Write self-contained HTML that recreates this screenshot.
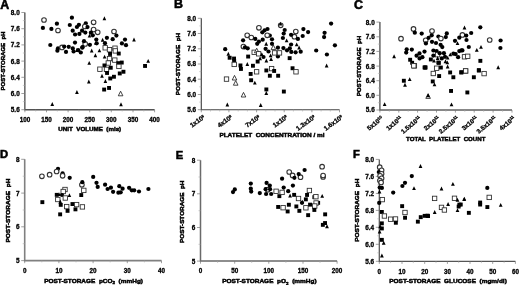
<!DOCTYPE html>
<html><head><meta charset="utf-8"><style>
html,body{margin:0;padding:0;background:#fff;}
svg{display:block;will-change:transform;filter:blur(0.3px);}
text{font-family:"Liberation Sans", sans-serif;font-weight:bold;fill:#000;stroke:#000;stroke-width:0.3px;}
</style></head><body>
<svg width="520" height="285" viewBox="0 0 520 285">
<rect width="520" height="285" fill="#fff"/>
<path d="M24.85 12.5V109.7H154.6" fill="none" stroke="#525252" stroke-width="1.35"/>
<path d="M21.35 12.5H24.85" stroke="#777" stroke-width="0.7"/>
<text x="19.7" y="14.9" font-size="6.4" text-anchor="end" >8.0</text>
<path d="M21.35 28.7H24.85" stroke="#777" stroke-width="0.7"/>
<text x="19.7" y="31.1" font-size="6.4" text-anchor="end" >7.6</text>
<path d="M21.35 44.9H24.85" stroke="#777" stroke-width="0.7"/>
<text x="19.7" y="47.3" font-size="6.4" text-anchor="end" >7.2</text>
<path d="M21.35 61.1H24.85" stroke="#777" stroke-width="0.7"/>
<text x="19.7" y="63.5" font-size="6.4" text-anchor="end" >6.8</text>
<path d="M21.35 77.3H24.85" stroke="#777" stroke-width="0.7"/>
<text x="19.7" y="79.7" font-size="6.4" text-anchor="end" >6.4</text>
<path d="M21.35 93.5H24.85" stroke="#777" stroke-width="0.7"/>
<text x="19.7" y="95.9" font-size="6.4" text-anchor="end" >6.0</text>
<path d="M21.35 109.7H24.85" stroke="#777" stroke-width="0.7"/>
<text x="19.7" y="112.1" font-size="6.4" text-anchor="end" >5.6</text>
<path d="M22.85 20.6H24.85" stroke="#aaa" stroke-width="0.6"/>
<path d="M22.85 36.8H24.85" stroke="#aaa" stroke-width="0.6"/>
<path d="M22.85 53.0H24.85" stroke="#aaa" stroke-width="0.6"/>
<path d="M22.85 69.2H24.85" stroke="#aaa" stroke-width="0.6"/>
<path d="M22.85 85.4H24.85" stroke="#aaa" stroke-width="0.6"/>
<path d="M22.85 101.6H24.85" stroke="#aaa" stroke-width="0.6"/>
<path d="M24.9 109.7V112.3" stroke="#777" stroke-width="0.7"/>
<path d="M46.5 109.7V112.3" stroke="#777" stroke-width="0.7"/>
<path d="M68.1 109.7V112.3" stroke="#777" stroke-width="0.7"/>
<path d="M89.7 109.7V112.3" stroke="#777" stroke-width="0.7"/>
<path d="M111.3 109.7V112.3" stroke="#777" stroke-width="0.7"/>
<path d="M133.0 109.7V112.3" stroke="#777" stroke-width="0.7"/>
<path d="M154.6 109.7V112.3" stroke="#777" stroke-width="0.7"/>
<path d="M35.7 109.7V111.5" stroke="#aaa" stroke-width="0.6"/>
<path d="M57.3 109.7V111.5" stroke="#aaa" stroke-width="0.6"/>
<path d="M78.9 109.7V111.5" stroke="#aaa" stroke-width="0.6"/>
<path d="M100.5 109.7V111.5" stroke="#aaa" stroke-width="0.6"/>
<path d="M122.2 109.7V111.5" stroke="#aaa" stroke-width="0.6"/>
<path d="M143.8 109.7V111.5" stroke="#aaa" stroke-width="0.6"/>
<text x="24.9" y="122.0" font-size="6.3" text-anchor="middle" >100</text>
<text x="46.5" y="122.0" font-size="6.3" text-anchor="middle" >150</text>
<text x="68.1" y="122.0" font-size="6.3" text-anchor="middle" >200</text>
<text x="89.7" y="122.0" font-size="6.3" text-anchor="middle" >250</text>
<text x="111.3" y="122.0" font-size="6.3" text-anchor="middle" >300</text>
<text x="133.0" y="122.0" font-size="6.3" text-anchor="middle" >350</text>
<text x="154.6" y="122.0" font-size="6.3" text-anchor="middle" >400</text>
<text x="58.3" y="131.1" font-size="5.8" textLength="62.9" lengthAdjust="spacingAndGlyphs" xml:space="preserve" style="stroke-width:0.45px">UNIT  VOLUME  (mls)</text>
<text x="0" y="0" font-size="5.8" textLength="58.9" lengthAdjust="spacingAndGlyphs" xml:space="preserve" style="stroke-width:0.45px" transform="translate(5.2 90.5) rotate(-90)">POST-STORAGE  pH</text>
<text x="0.3" y="8.5" font-size="12.4" style="stroke-width:0.55px">A</text>
<circle cx="42.9" cy="27.9" r="2.12" fill="#000"/>
<circle cx="44.0" cy="20.0" r="2.3" fill="#fff" stroke="#333" stroke-width="1.1"/>
<circle cx="51.4" cy="28.9" r="2.12" fill="#000"/>
<circle cx="56.9" cy="23.7" r="2.12" fill="#000"/>
<circle cx="58.0" cy="30.5" r="2.3" fill="#fff" stroke="#333" stroke-width="1.1"/>
<circle cx="71.9" cy="17.7" r="2.12" fill="#000"/>
<circle cx="69.8" cy="25.0" r="2.12" fill="#000"/>
<circle cx="72.7" cy="30.7" r="2.12" fill="#000"/>
<circle cx="75.1" cy="34.5" r="2.12" fill="#000"/>
<circle cx="76.9" cy="27.0" r="2.12" fill="#000"/>
<circle cx="78.9" cy="24.8" r="2.12" fill="#000"/>
<circle cx="79.4" cy="33.9" r="2.12" fill="#000"/>
<circle cx="82.1" cy="30.7" r="2.12" fill="#000"/>
<circle cx="85.8" cy="23.3" r="2.12" fill="#000"/>
<circle cx="84.8" cy="26.5" r="2.3" fill="#fff" stroke="#333" stroke-width="1.1"/>
<circle cx="87.5" cy="27.1" r="2.12" fill="#000"/>
<circle cx="85.3" cy="32.6" r="2.12" fill="#000"/>
<circle cx="93.6" cy="22.3" r="2.3" fill="#fff" stroke="#333" stroke-width="1.1"/>
<circle cx="93.6" cy="29.6" r="2.3" fill="#fff" stroke="#333" stroke-width="1.1"/>
<circle cx="97.7" cy="32.3" r="2.3" fill="#fff" stroke="#333" stroke-width="1.1"/>
<circle cx="90.9" cy="32.7" r="2.12" fill="#000"/>
<path d="M89.5 33.7L91.3 37.6L87.7 37.6Z" fill="#000"/>
<circle cx="92.8" cy="35.3" r="2.12" fill="#000"/>
<path d="M104.4 16.3L106.2 20.2L102.6 20.2Z" fill="#000"/>
<circle cx="114.0" cy="31.5" r="2.3" fill="#fff" stroke="#333" stroke-width="1.1"/>
<circle cx="116.4" cy="35.6" r="2.12" fill="#000"/>
<circle cx="112.7" cy="39.2" r="2.12" fill="#000"/>
<circle cx="125.0" cy="39.6" r="2.12" fill="#000"/>
<path d="M134.0 37.5L135.8 41.4L132.2 41.4Z" fill="#000"/>
<circle cx="121.9" cy="43.4" r="2.12" fill="#000"/>
<circle cx="126.0" cy="45.2" r="2.12" fill="#000"/>
<circle cx="106.9" cy="37.8" r="2.12" fill="#000"/>
<path d="M102.6 37.8L104.4 41.7L100.8 41.7Z" fill="#000"/>
<circle cx="96.3" cy="39.6" r="2.12" fill="#000"/>
<circle cx="96.7" cy="43.3" r="2.12" fill="#000"/>
<circle cx="75.0" cy="42.6" r="2.12" fill="#000"/>
<circle cx="85.2" cy="43.9" r="2.3" fill="#fff" stroke="#333" stroke-width="1.1"/>
<circle cx="84.0" cy="41.2" r="2.12" fill="#000"/>
<circle cx="89.9" cy="44.8" r="2.12" fill="#000"/>
<circle cx="82.5" cy="47.2" r="2.12" fill="#000"/>
<path d="M95.8 40.9L97.6 44.8L94.0 44.8Z" fill="#000"/>
<circle cx="105.0" cy="43.2" r="2.12" fill="#000"/>
<circle cx="50.3" cy="45.0" r="2.12" fill="#000"/>
<circle cx="57.4" cy="50.7" r="2.12" fill="#000"/>
<circle cx="58.0" cy="48.3" r="2.12" fill="#000"/>
<circle cx="62.0" cy="47.4" r="2.3" fill="#fff" stroke="#333" stroke-width="1.1"/>
<circle cx="64.2" cy="46.6" r="2.12" fill="#000"/>
<circle cx="66.0" cy="51.9" r="2.12" fill="#000"/>
<circle cx="68.7" cy="46.8" r="2.12" fill="#000"/>
<circle cx="72.8" cy="48.4" r="2.12" fill="#000"/>
<circle cx="73.6" cy="51.5" r="2.12" fill="#000"/>
<path d="M76.9 48.1L78.8 52.0L75.1 52.0Z" fill="#000"/>
<circle cx="78.2" cy="50.2" r="2.12" fill="#000"/>
<circle cx="80.8" cy="52.5" r="2.12" fill="#000"/>
<circle cx="82.3" cy="47.7" r="2.12" fill="#000"/>
<path d="M91.7 48.6L93.5 52.5L89.9 52.5Z" fill="#000"/>
<path d="M99.4 48.4L101.2 52.3L97.6 52.3Z" fill="#000"/>
<path d="M95.4 53.3L97.2 57.2L93.6 57.2Z" fill="#000"/>
<path d="M89.2 60.9L91.0 64.8L87.4 64.8Z" fill="#000"/>
<rect x="103.0" y="45.6" width="4.4" height="4.4" fill="#fff" stroke="#2a2a2a" stroke-width="0.85"/>
<rect x="107.3" y="47.5" width="4.4" height="4.4" fill="#fff" stroke="#2a2a2a" stroke-width="0.85"/>
<rect x="112.8" y="46.0" width="4.4" height="4.4" fill="#fff" stroke="#2a2a2a" stroke-width="0.85"/>
<rect x="113.1" y="48.7" width="4.4" height="4.4" fill="#fff" stroke="#2a2a2a" stroke-width="0.85"/>
<rect x="116.8" y="51.6" width="3.9" height="3.9" fill="#000"/>
<rect x="108.1" y="52.0" width="3.9" height="3.9" fill="#000"/>
<path d="M104.6 54.7L106.4 58.6L102.8 58.6Z" fill="#000"/>
<rect x="107.3" y="56.4" width="4.4" height="4.4" fill="#fff" stroke="#2a2a2a" stroke-width="0.85"/>
<rect x="112.6" y="57.9" width="4.4" height="4.4" fill="#fff" stroke="#2a2a2a" stroke-width="0.85"/>
<rect x="116.3" y="61.2" width="3.9" height="3.9" fill="#000"/>
<rect x="119.8" y="60.6" width="3.9" height="3.9" fill="#000"/>
<rect x="106.1" y="60.8" width="4.4" height="4.4" fill="#fff" stroke="#2a2a2a" stroke-width="0.85"/>
<rect x="102.5" y="63.5" width="3.9" height="3.9" fill="#000"/>
<rect x="97.7" y="67.0" width="4.4" height="4.4" fill="#fff" stroke="#2a2a2a" stroke-width="0.85"/>
<rect x="104.3" y="67.2" width="4.4" height="4.4" fill="#fff" stroke="#2a2a2a" stroke-width="0.85"/>
<rect x="108.8" y="65.8" width="3.9" height="3.9" fill="#000"/>
<rect x="116.7" y="64.2" width="4.4" height="4.4" fill="#fff" stroke="#2a2a2a" stroke-width="0.85"/>
<rect x="117.8" y="71.5" width="3.9" height="3.9" fill="#000"/>
<rect x="121.5" y="69.8" width="3.9" height="3.9" fill="#000"/>
<rect x="105.1" y="71.0" width="3.9" height="3.9" fill="#000"/>
<rect x="108.3" y="76.5" width="3.9" height="3.9" fill="#000"/>
<rect x="112.0" y="74.8" width="3.9" height="3.9" fill="#000"/>
<path d="M102.0 73.8L103.8 77.7L100.2 77.7Z" fill="#000"/>
<path d="M105.4 79.0L107.2 82.9L103.6 82.9Z" fill="#000"/>
<rect x="102.2" y="87.6" width="3.9" height="3.9" fill="#000"/>
<rect x="107.1" y="86.0" width="3.9" height="3.9" fill="#000"/>
<path d="M120.6 91.2L122.9 95.8L118.3 95.8Z" fill="#fff" stroke="#222" stroke-width="0.85"/>
<path d="M121.0 102.3L122.8 106.2L119.2 106.2Z" fill="#000"/>
<path d="M52.3 102.1L54.1 106.0L50.4 106.0Z" fill="#000"/>
<path d="M76.9 90.1L78.8 94.0L75.1 94.0Z" fill="#000"/>
<path d="M88.8 79.5L90.6 83.4L87.0 83.4Z" fill="#000"/>
<path d="M148.2 58.9L150.0 62.8L146.3 62.8Z" fill="#000"/>
<rect x="143.1" y="64.0" width="3.9" height="3.9" fill="#000"/>
<path d="M201.3 18.3V109.7H339.5" fill="none" stroke="#444" stroke-width="1.15"/>
<path d="M197.8 18.3H201.3" stroke="#777" stroke-width="0.7"/>
<text x="196.1" y="20.7" font-size="6.4" text-anchor="end" >8.0</text>
<path d="M197.8 33.5H201.3" stroke="#777" stroke-width="0.7"/>
<text x="196.1" y="35.9" font-size="6.4" text-anchor="end" >7.6</text>
<path d="M197.8 48.8H201.3" stroke="#777" stroke-width="0.7"/>
<text x="196.1" y="51.2" font-size="6.4" text-anchor="end" >7.2</text>
<path d="M197.8 64.0H201.3" stroke="#777" stroke-width="0.7"/>
<text x="196.1" y="66.4" font-size="6.4" text-anchor="end" >6.8</text>
<path d="M197.8 79.2H201.3" stroke="#777" stroke-width="0.7"/>
<text x="196.1" y="81.6" font-size="6.4" text-anchor="end" >6.4</text>
<path d="M197.8 94.5H201.3" stroke="#777" stroke-width="0.7"/>
<text x="196.1" y="96.9" font-size="6.4" text-anchor="end" >6.0</text>
<path d="M197.8 109.7H201.3" stroke="#777" stroke-width="0.7"/>
<text x="196.1" y="112.1" font-size="6.4" text-anchor="end" >5.6</text>
<path d="M199.3 25.9H201.3" stroke="#aaa" stroke-width="0.6"/>
<path d="M199.3 41.1H201.3" stroke="#aaa" stroke-width="0.6"/>
<path d="M199.3 56.4H201.3" stroke="#aaa" stroke-width="0.6"/>
<path d="M199.3 71.6H201.3" stroke="#aaa" stroke-width="0.6"/>
<path d="M199.3 86.8H201.3" stroke="#aaa" stroke-width="0.6"/>
<path d="M199.3 102.1H201.3" stroke="#aaa" stroke-width="0.6"/>
<path d="M201.3 109.7V112.3" stroke="#777" stroke-width="0.7"/>
<path d="M228.9 109.7V112.3" stroke="#777" stroke-width="0.7"/>
<path d="M256.6 109.7V112.3" stroke="#777" stroke-width="0.7"/>
<path d="M284.2 109.7V112.3" stroke="#777" stroke-width="0.7"/>
<path d="M311.9 109.7V112.3" stroke="#777" stroke-width="0.7"/>
<path d="M339.5 109.7V112.3" stroke="#777" stroke-width="0.7"/>
<path d="M210.5 109.7V111.5" stroke="#aaa" stroke-width="0.6"/>
<path d="M219.7 109.7V111.5" stroke="#aaa" stroke-width="0.6"/>
<path d="M238.2 109.7V111.5" stroke="#aaa" stroke-width="0.6"/>
<path d="M247.4 109.7V111.5" stroke="#aaa" stroke-width="0.6"/>
<path d="M265.8 109.7V111.5" stroke="#aaa" stroke-width="0.6"/>
<path d="M275.0 109.7V111.5" stroke="#aaa" stroke-width="0.6"/>
<path d="M293.4 109.7V111.5" stroke="#aaa" stroke-width="0.6"/>
<path d="M302.6 109.7V111.5" stroke="#aaa" stroke-width="0.6"/>
<path d="M321.1 109.7V111.5" stroke="#aaa" stroke-width="0.6"/>
<path d="M330.3 109.7V111.5" stroke="#aaa" stroke-width="0.6"/>
<text x="0" y="0" font-size="6.5" text-anchor="end" transform="translate(205.2 118.1) rotate(-36)">1x10<tspan dy="-2" font-size="3.6">8</tspan></text>
<text x="0" y="0" font-size="6.5" text-anchor="end" transform="translate(232.8 118.1) rotate(-36)">4x10<tspan dy="-2" font-size="3.6">8</tspan></text>
<text x="0" y="0" font-size="6.5" text-anchor="end" transform="translate(260.5 118.1) rotate(-36)">7x10<tspan dy="-2" font-size="3.6">8</tspan></text>
<text x="0" y="0" font-size="6.5" text-anchor="end" transform="translate(288.1 118.1) rotate(-36)">1x10<tspan dy="-2" font-size="3.6">9</tspan></text>
<text x="0" y="0" font-size="6.5" text-anchor="end" transform="translate(315.8 118.1) rotate(-36)">1.3x10<tspan dy="-2" font-size="3.6">9</tspan></text>
<text x="0" y="0" font-size="6.5" text-anchor="end" transform="translate(343.4 118.1) rotate(-36)">1.6x10<tspan dy="-2" font-size="3.6">9</tspan></text>
<text x="219.4" y="137.2" font-size="5.8" textLength="105.2" lengthAdjust="spacingAndGlyphs" xml:space="preserve" style="stroke-width:0.45px">PLATELET  CONCENTRATION / ml</text>
<text x="0" y="0" font-size="5.8" textLength="62.3" lengthAdjust="spacingAndGlyphs" xml:space="preserve" style="stroke-width:0.45px" transform="translate(179.5 95.2) rotate(-90)">POST-STORAGE  pH</text>
<text x="174.0" y="8.4" font-size="12.4" style="stroke-width:0.55px">B</text>
<circle cx="225.2" cy="49.2" r="2.12" fill="#000"/>
<path d="M228.3 51.8L230.2 55.7L226.5 55.7Z" fill="#000"/>
<rect x="227.7" y="55.8" width="3.9" height="3.9" fill="#000"/>
<rect x="232.1" y="56.6" width="3.9" height="3.9" fill="#000"/>
<rect x="232.2" y="59.0" width="3.9" height="3.9" fill="#000"/>
<rect x="232.0" y="62.2" width="4.4" height="4.4" fill="#fff" stroke="#2a2a2a" stroke-width="0.85"/>
<rect x="238.5" y="63.5" width="3.9" height="3.9" fill="#000"/>
<rect x="239.0" y="67.0" width="3.9" height="3.9" fill="#000"/>
<path d="M247.3 62.1L249.2 66.0L245.5 66.0Z" fill="#000"/>
<rect x="246.2" y="54.6" width="3.9" height="3.9" fill="#000"/>
<rect x="251.0" y="63.8" width="3.9" height="3.9" fill="#000"/>
<rect x="224.3" y="76.9" width="4.4" height="4.4" fill="#fff" stroke="#2a2a2a" stroke-width="0.85"/>
<path d="M234.5 75.4L236.8 80.0L232.2 80.0Z" fill="#fff" stroke="#222" stroke-width="0.85"/>
<path d="M235.7 80.6L238.0 85.2L233.4 85.2Z" fill="#fff" stroke="#222" stroke-width="0.85"/>
<path d="M243.5 92.4L245.8 97.0L241.2 97.0Z" fill="#fff" stroke="#222" stroke-width="0.85"/>
<path d="M227.3 102.5L229.2 106.4L225.5 106.4Z" fill="#000"/>
<rect x="248.7" y="72.0" width="3.9" height="3.9" fill="#000"/>
<rect x="249.2" y="78.3" width="3.9" height="3.9" fill="#000"/>
<path d="M254.8 80.7L256.7 84.6L253.0 84.6Z" fill="#000"/>
<rect x="254.4" y="69.6" width="4.4" height="4.4" fill="#fff" stroke="#2a2a2a" stroke-width="0.85"/>
<rect x="255.7" y="59.6" width="3.9" height="3.9" fill="#000"/>
<rect x="264.4" y="68.5" width="3.9" height="3.9" fill="#000"/>
<rect x="269.4" y="66.4" width="4.4" height="4.4" fill="#fff" stroke="#2a2a2a" stroke-width="0.85"/>
<rect x="272.2" y="69.0" width="3.9" height="3.9" fill="#000"/>
<rect x="267.9" y="73.8" width="3.9" height="3.9" fill="#000"/>
<rect x="276.2" y="73.8" width="3.9" height="3.9" fill="#000"/>
<rect x="290.6" y="66.3" width="3.9" height="3.9" fill="#000"/>
<rect x="293.8" y="69.6" width="4.4" height="4.4" fill="#fff" stroke="#2a2a2a" stroke-width="0.85"/>
<rect x="264.4" y="87.5" width="3.9" height="3.9" fill="#000"/>
<path d="M266.3 91.0L268.2 94.9L264.4 94.9Z" fill="#000"/>
<rect x="281.9" y="89.6" width="3.9" height="3.9" fill="#000"/>
<path d="M260.7 103.0L262.6 106.9L258.8 106.9Z" fill="#000"/>
<rect x="287.7" y="56.2" width="3.9" height="3.9" fill="#000"/>
<circle cx="247.2" cy="35.3" r="2.3" fill="#fff" stroke="#333" stroke-width="1.1"/>
<circle cx="243.1" cy="40.3" r="2.12" fill="#000"/>
<circle cx="243.4" cy="46.6" r="2.3" fill="#fff" stroke="#333" stroke-width="1.1"/>
<circle cx="247.7" cy="48.3" r="2.12" fill="#000"/>
<circle cx="245.0" cy="47.3" r="2.12" fill="#000"/>
<circle cx="258.9" cy="27.8" r="2.3" fill="#fff" stroke="#333" stroke-width="1.1"/>
<circle cx="267.5" cy="29.0" r="2.12" fill="#000"/>
<circle cx="264.6" cy="30.3" r="2.12" fill="#000"/>
<circle cx="262.3" cy="32.3" r="2.12" fill="#000"/>
<circle cx="251.3" cy="37.5" r="2.3" fill="#fff" stroke="#333" stroke-width="1.1"/>
<circle cx="269.8" cy="35.6" r="2.12" fill="#000"/>
<circle cx="267.2" cy="35.3" r="2.3" fill="#fff" stroke="#333" stroke-width="1.1"/>
<circle cx="255.3" cy="38.9" r="2.12" fill="#000"/>
<circle cx="262.7" cy="39.7" r="2.12" fill="#000"/>
<circle cx="258.9" cy="41.6" r="2.12" fill="#000"/>
<circle cx="257.2" cy="43.8" r="2.12" fill="#000"/>
<circle cx="272.0" cy="39.3" r="2.12" fill="#000"/>
<circle cx="272.0" cy="43.8" r="2.12" fill="#000"/>
<path d="M266.2 41.8L268.1 45.7L264.3 45.7Z" fill="#000"/>
<circle cx="280.7" cy="25.3" r="2.3" fill="#fff" stroke="#333" stroke-width="1.1"/>
<path d="M280.5 21.7L282.4 25.6L278.6 25.6Z" fill="#000"/>
<circle cx="284.7" cy="30.0" r="2.12" fill="#000"/>
<circle cx="283.7" cy="33.6" r="2.12" fill="#000"/>
<circle cx="282.9" cy="38.0" r="2.12" fill="#000"/>
<path d="M286.6 38.4L288.5 42.3L284.8 42.3Z" fill="#000"/>
<circle cx="265.6" cy="48.8" r="2.12" fill="#000"/>
<circle cx="268.5" cy="51.5" r="2.12" fill="#000"/>
<rect x="252.0" y="50.1" width="4.4" height="4.4" fill="#fff" stroke="#2a2a2a" stroke-width="0.85"/>
<path d="M256.7 48.2L259.0 52.8L254.4 52.8Z" fill="#fff" stroke="#222" stroke-width="0.85"/>
<rect x="256.4" y="51.6" width="4.4" height="4.4" fill="#fff" stroke="#2a2a2a" stroke-width="0.85"/>
<path d="M261.8 52.2L263.7 56.1L259.9 56.1Z" fill="#000"/>
<circle cx="263.5" cy="57.0" r="2.12" fill="#000"/>
<path d="M270.6 53.4L272.5 57.3L268.8 57.3Z" fill="#000"/>
<circle cx="277.9" cy="47.7" r="2.12" fill="#000"/>
<path d="M273.4 45.0L275.7 49.6L271.1 49.6Z" fill="#fff" stroke="#222" stroke-width="0.85"/>
<circle cx="277.9" cy="56.4" r="2.12" fill="#000"/>
<rect x="272.4" y="50.7" width="4.4" height="4.4" fill="#fff" stroke="#2a2a2a" stroke-width="0.85"/>
<rect x="277.3" y="50.7" width="4.4" height="4.4" fill="#fff" stroke="#2a2a2a" stroke-width="0.85"/>
<path d="M260.1 56.3L262.0 60.2L258.2 60.2Z" fill="#000"/>
<path d="M266.4 58.5L268.2 62.4L264.5 62.4Z" fill="#000"/>
<path d="M271.1 57.1L273.0 61.0L269.2 61.0Z" fill="#000"/>
<circle cx="283.4" cy="48.1" r="2.12" fill="#000"/>
<circle cx="287.0" cy="50.3" r="2.12" fill="#000"/>
<circle cx="291.3" cy="51.9" r="2.12" fill="#000"/>
<circle cx="295.6" cy="52.3" r="2.12" fill="#000"/>
<circle cx="300.7" cy="51.7" r="2.12" fill="#000"/>
<circle cx="289.8" cy="48.3" r="2.12" fill="#000"/>
<circle cx="291.1" cy="44.5" r="2.12" fill="#000"/>
<path d="M296.7 42.4L298.6 46.3L294.8 46.3Z" fill="#000"/>
<path d="M299.1 45.6L301.0 49.5L297.2 49.5Z" fill="#000"/>
<circle cx="295.8" cy="31.5" r="2.3" fill="#fff" stroke="#333" stroke-width="1.1"/>
<circle cx="294.4" cy="36.7" r="2.3" fill="#fff" stroke="#333" stroke-width="1.1"/>
<circle cx="291.1" cy="34.8" r="2.12" fill="#000"/>
<circle cx="303.4" cy="29.1" r="2.12" fill="#000"/>
<circle cx="308.1" cy="32.1" r="2.12" fill="#000"/>
<circle cx="302.7" cy="36.0" r="2.12" fill="#000"/>
<circle cx="297.9" cy="38.9" r="2.12" fill="#000"/>
<circle cx="331.1" cy="23.6" r="2.12" fill="#000"/>
<circle cx="324.6" cy="32.8" r="2.12" fill="#000"/>
<circle cx="324.1" cy="37.1" r="2.12" fill="#000"/>
<circle cx="316.2" cy="50.5" r="2.12" fill="#000"/>
<circle cx="334.9" cy="45.3" r="2.12" fill="#000"/>
<circle cx="326.9" cy="54.5" r="2.12" fill="#000"/>
<path d="M326.6 63.5L328.5 67.4L324.8 67.4Z" fill="#000"/>
<path d="M379.9 22.1V110.0H512.0" fill="none" stroke="#606060" stroke-width="1.45"/>
<path d="M376.4 22.1H379.9" stroke="#777" stroke-width="0.7"/>
<text x="374.7" y="24.5" font-size="6.4" text-anchor="end" >8.0</text>
<path d="M376.4 36.8H379.9" stroke="#777" stroke-width="0.7"/>
<text x="374.7" y="39.2" font-size="6.4" text-anchor="end" >7.6</text>
<path d="M376.4 51.4H379.9" stroke="#777" stroke-width="0.7"/>
<text x="374.7" y="53.8" font-size="6.4" text-anchor="end" >7.2</text>
<path d="M376.4 66.1H379.9" stroke="#777" stroke-width="0.7"/>
<text x="374.7" y="68.5" font-size="6.4" text-anchor="end" >6.8</text>
<path d="M376.4 80.7H379.9" stroke="#777" stroke-width="0.7"/>
<text x="374.7" y="83.1" font-size="6.4" text-anchor="end" >6.4</text>
<path d="M376.4 95.3H379.9" stroke="#777" stroke-width="0.7"/>
<text x="374.7" y="97.8" font-size="6.4" text-anchor="end" >6.0</text>
<path d="M376.4 110.0H379.9" stroke="#777" stroke-width="0.7"/>
<text x="374.7" y="112.4" font-size="6.4" text-anchor="end" >5.6</text>
<path d="M377.9 29.4H379.9" stroke="#aaa" stroke-width="0.6"/>
<path d="M377.9 44.1H379.9" stroke="#aaa" stroke-width="0.6"/>
<path d="M377.9 58.7H379.9" stroke="#aaa" stroke-width="0.6"/>
<path d="M377.9 73.4H379.9" stroke="#aaa" stroke-width="0.6"/>
<path d="M377.9 88.0H379.9" stroke="#aaa" stroke-width="0.6"/>
<path d="M377.9 102.7H379.9" stroke="#aaa" stroke-width="0.6"/>
<path d="M379.9 110.0V112.6" stroke="#777" stroke-width="0.7"/>
<path d="M398.8 110.0V112.6" stroke="#777" stroke-width="0.7"/>
<path d="M417.6 110.0V112.6" stroke="#777" stroke-width="0.7"/>
<path d="M436.5 110.0V112.6" stroke="#777" stroke-width="0.7"/>
<path d="M455.4 110.0V112.6" stroke="#777" stroke-width="0.7"/>
<path d="M474.2 110.0V112.6" stroke="#777" stroke-width="0.7"/>
<path d="M493.1 110.0V112.6" stroke="#777" stroke-width="0.7"/>
<path d="M512.0 110.0V112.6" stroke="#777" stroke-width="0.7"/>
<path d="M389.3 110.0V111.8" stroke="#aaa" stroke-width="0.6"/>
<path d="M408.2 110.0V111.8" stroke="#aaa" stroke-width="0.6"/>
<path d="M427.1 110.0V111.8" stroke="#aaa" stroke-width="0.6"/>
<path d="M445.9 110.0V111.8" stroke="#aaa" stroke-width="0.6"/>
<path d="M464.8 110.0V111.8" stroke="#aaa" stroke-width="0.6"/>
<path d="M483.7 110.0V111.8" stroke="#aaa" stroke-width="0.6"/>
<path d="M502.6 110.0V111.8" stroke="#aaa" stroke-width="0.6"/>
<text x="0" y="0" font-size="6.3" text-anchor="end" transform="translate(383.5 118.9) rotate(-40)">5x10<tspan dy="-2" font-size="4.0">10</tspan></text>
<text x="0" y="0" font-size="6.3" text-anchor="end" transform="translate(402.4 118.9) rotate(-40)">1x10<tspan dy="-2" font-size="4.0">11</tspan></text>
<text x="0" y="0" font-size="6.3" text-anchor="end" transform="translate(421.2 118.9) rotate(-40)">1.5x10<tspan dy="-2" font-size="4.0">11</tspan></text>
<text x="0" y="0" font-size="6.3" text-anchor="end" transform="translate(440.1 118.9) rotate(-40)">2x10<tspan dy="-2" font-size="4.0">11</tspan></text>
<text x="0" y="0" font-size="6.3" text-anchor="end" transform="translate(459.0 118.9) rotate(-40)">2.5x10<tspan dy="-2" font-size="4.0">11</tspan></text>
<text x="0" y="0" font-size="6.3" text-anchor="end" transform="translate(477.9 118.9) rotate(-40)">3x10<tspan dy="-2" font-size="4.0">11</tspan></text>
<text x="0" y="0" font-size="6.3" text-anchor="end" transform="translate(496.7 118.9) rotate(-40)">3.5x10<tspan dy="-2" font-size="4.0">11</tspan></text>
<text x="0" y="0" font-size="6.3" text-anchor="end" transform="translate(515.6 118.9) rotate(-40)">4x10<tspan dy="-2" font-size="4.0">11</tspan></text>
<text x="406.0" y="140.8" font-size="5.8" textLength="79.4" lengthAdjust="spacingAndGlyphs" xml:space="preserve" style="stroke-width:0.45px">TOTAL  PLATELET  COUNT</text>
<text x="0" y="0" font-size="5.8" textLength="60.5" lengthAdjust="spacingAndGlyphs" xml:space="preserve" style="stroke-width:0.45px" transform="translate(360.7 96.3) rotate(-90)">POST-STORAGE  pH</text>
<text x="354.0" y="8.7" font-size="12.4" style="stroke-width:0.55px">C</text>
<circle cx="401.0" cy="38.7" r="2.3" fill="#fff" stroke="#333" stroke-width="1.1"/>
<circle cx="413.5" cy="28.9" r="2.3" fill="#fff" stroke="#333" stroke-width="1.1"/>
<circle cx="414.8" cy="32.7" r="2.12" fill="#000"/>
<circle cx="421.7" cy="33.6" r="2.12" fill="#000"/>
<circle cx="425.7" cy="40.3" r="2.3" fill="#fff" stroke="#333" stroke-width="1.1"/>
<circle cx="425.9" cy="43.4" r="2.12" fill="#000"/>
<circle cx="428.6" cy="37.8" r="2.12" fill="#000"/>
<circle cx="406.7" cy="49.3" r="2.12" fill="#000"/>
<circle cx="411.8" cy="49.6" r="2.12" fill="#000"/>
<circle cx="406.2" cy="52.6" r="2.12" fill="#000"/>
<circle cx="424.5" cy="51.6" r="2.12" fill="#000"/>
<circle cx="419.5" cy="53.4" r="2.12" fill="#000"/>
<circle cx="416.6" cy="55.7" r="2.12" fill="#000"/>
<circle cx="422.4" cy="57.2" r="2.12" fill="#000"/>
<circle cx="419.6" cy="58.4" r="2.12" fill="#000"/>
<path d="M394.1 54.3L396.0 58.2L392.2 58.2Z" fill="#000"/>
<rect x="408.2" y="57.8" width="3.9" height="3.9" fill="#000"/>
<rect x="410.2" y="60.8" width="3.9" height="3.9" fill="#000"/>
<rect x="412.2" y="63.6" width="4.4" height="4.4" fill="#fff" stroke="#2a2a2a" stroke-width="0.85"/>
<rect x="423.2" y="65.6" width="3.9" height="3.9" fill="#000"/>
<circle cx="432.0" cy="31.0" r="2.3" fill="#fff" stroke="#333" stroke-width="1.1"/>
<circle cx="431.7" cy="35.3" r="2.12" fill="#000"/>
<circle cx="432.0" cy="41.8" r="2.12" fill="#000"/>
<circle cx="436.0" cy="43.0" r="2.12" fill="#000"/>
<circle cx="438.4" cy="36.5" r="2.12" fill="#000"/>
<circle cx="440.9" cy="38.6" r="2.3" fill="#fff" stroke="#333" stroke-width="1.1"/>
<circle cx="446.8" cy="33.4" r="2.12" fill="#000"/>
<circle cx="445.8" cy="37.1" r="2.12" fill="#000"/>
<circle cx="440.6" cy="44.8" r="2.12" fill="#000"/>
<circle cx="442.3" cy="47.1" r="2.12" fill="#000"/>
<path d="M464.5 25.5L466.4 29.4L462.6 29.4Z" fill="#000"/>
<circle cx="462.4" cy="34.9" r="2.3" fill="#fff" stroke="#333" stroke-width="1.1"/>
<circle cx="466.2" cy="35.6" r="2.12" fill="#000"/>
<circle cx="459.3" cy="37.7" r="2.12" fill="#000"/>
<circle cx="455.0" cy="40.8" r="2.12" fill="#000"/>
<path d="M457.5 41.2L459.4 45.1L455.6 45.1Z" fill="#000"/>
<circle cx="466.5" cy="40.0" r="2.12" fill="#000"/>
<circle cx="468.8" cy="47.0" r="2.12" fill="#000"/>
<circle cx="471.2" cy="33.0" r="2.12" fill="#000"/>
<circle cx="480.3" cy="27.3" r="2.12" fill="#000"/>
<circle cx="489.7" cy="40.0" r="2.3" fill="#fff" stroke="#333" stroke-width="1.1"/>
<circle cx="500.6" cy="40.5" r="2.12" fill="#000"/>
<circle cx="500.4" cy="48.0" r="2.12" fill="#000"/>
<path d="M481.0 44.9L482.9 48.8L479.1 48.8Z" fill="#000"/>
<path d="M476.8 47.9L478.7 51.8L474.9 51.8Z" fill="#000"/>
<circle cx="461.4" cy="50.3" r="2.12" fill="#000"/>
<circle cx="433.4" cy="50.5" r="2.12" fill="#000"/>
<circle cx="436.6" cy="51.1" r="2.12" fill="#000"/>
<circle cx="433.4" cy="55.6" r="2.12" fill="#000"/>
<rect x="435.4" y="52.5" width="4.4" height="4.4" fill="#fff" stroke="#2a2a2a" stroke-width="0.85"/>
<circle cx="439.7" cy="53.2" r="2.12" fill="#000"/>
<circle cx="443.9" cy="53.2" r="2.12" fill="#000"/>
<circle cx="445.0" cy="56.8" r="2.12" fill="#000"/>
<circle cx="441.8" cy="58.4" r="2.12" fill="#000"/>
<path d="M437.6 56.1L439.5 60.0L435.8 60.0Z" fill="#000"/>
<rect x="428.9" y="57.5" width="3.9" height="3.9" fill="#000"/>
<path d="M434.0 58.7L435.9 62.6L432.1 62.6Z" fill="#000"/>
<rect x="436.4" y="60.6" width="3.9" height="3.9" fill="#000"/>
<path d="M445.5 59.3L447.4 63.2L443.6 63.2Z" fill="#000"/>
<path d="M447.6 55.7L449.5 59.6L445.8 59.6Z" fill="#000"/>
<path d="M450.3 52.4L452.2 56.3L448.4 56.3Z" fill="#000"/>
<circle cx="453.4" cy="53.7" r="2.12" fill="#000"/>
<circle cx="455.6" cy="54.1" r="2.12" fill="#000"/>
<circle cx="458.1" cy="57.2" r="2.12" fill="#000"/>
<circle cx="459.3" cy="51.1" r="2.12" fill="#000"/>
<circle cx="462.4" cy="50.4" r="2.12" fill="#000"/>
<rect x="462.3" y="54.6" width="4.4" height="4.4" fill="#fff" stroke="#2a2a2a" stroke-width="0.85"/>
<rect x="465.5" y="54.1" width="4.4" height="4.4" fill="#fff" stroke="#2a2a2a" stroke-width="0.85"/>
<path d="M447.6 64.5L449.5 68.4L445.8 68.4Z" fill="#000"/>
<rect x="438.9" y="65.6" width="3.9" height="3.9" fill="#000"/>
<rect x="434.4" y="66.0" width="4.4" height="4.4" fill="#fff" stroke="#2a2a2a" stroke-width="0.85"/>
<rect x="436.9" y="60.9" width="3.9" height="3.9" fill="#000"/>
<path d="M447.3 60.4L449.2 64.3L445.4 64.3Z" fill="#000"/>
<rect x="423.6" y="65.5" width="3.9" height="3.9" fill="#000"/>
<rect x="411.6" y="63.6" width="4.4" height="4.4" fill="#fff" stroke="#2a2a2a" stroke-width="0.85"/>
<rect x="422.6" y="65.5" width="3.9" height="3.9" fill="#000"/>
<rect x="431.1" y="71.3" width="4.4" height="4.4" fill="#fff" stroke="#2a2a2a" stroke-width="0.85"/>
<rect x="437.2" y="74.1" width="3.9" height="3.9" fill="#000"/>
<rect x="430.8" y="79.5" width="3.9" height="3.9" fill="#000"/>
<path d="M434.5 82.4L436.4 86.3L432.6 86.3Z" fill="#000"/>
<rect x="401.9" y="78.8" width="3.9" height="3.9" fill="#000"/>
<path d="M409.7 77.2L411.6 81.1L407.8 81.1Z" fill="#000"/>
<path d="M405.0 82.8L406.9 86.7L403.1 86.7Z" fill="#000"/>
<path d="M428.1 93.8L430.4 98.4L425.8 98.4Z" fill="#fff" stroke="#222" stroke-width="0.85"/>
<path d="M428.1 93.3L430.0 97.2L426.2 97.2Z" fill="#000"/>
<path d="M384.6 102.2L386.5 106.1L382.8 106.1Z" fill="#000"/>
<rect x="448.2" y="70.5" width="3.9" height="3.9" fill="#000"/>
<rect x="451.4" y="75.3" width="3.9" height="3.9" fill="#000"/>
<rect x="459.4" y="70.5" width="3.9" height="3.9" fill="#000"/>
<rect x="463.4" y="68.8" width="4.4" height="4.4" fill="#fff" stroke="#2a2a2a" stroke-width="0.85"/>
<rect x="471.9" y="75.3" width="3.9" height="3.9" fill="#000"/>
<rect x="476.9" y="68.6" width="3.9" height="3.9" fill="#000"/>
<rect x="481.9" y="71.4" width="4.4" height="4.4" fill="#fff" stroke="#2a2a2a" stroke-width="0.85"/>
<rect x="478.4" y="58.9" width="3.9" height="3.9" fill="#000"/>
<rect x="449.1" y="89.0" width="3.9" height="3.9" fill="#000"/>
<rect x="465.4" y="90.5" width="3.9" height="3.9" fill="#000"/>
<path d="M451.5 102.4L453.4 106.3L449.6 106.3Z" fill="#000"/>
<path d="M498.2 65.3L500.1 69.2L496.3 69.2Z" fill="#000"/>
<rect x="463.4" y="68.7" width="4.4" height="4.4" fill="#fff" stroke="#2a2a2a" stroke-width="0.85"/>
<rect x="459.4" y="70.3" width="3.9" height="3.9" fill="#000"/>
<rect x="476.9" y="68.2" width="3.9" height="3.9" fill="#000"/>
<path d="M24.7 159.3V260.6H161.5" fill="none" stroke="#808080" stroke-width="1.6"/>
<path d="M21.2 159.3H24.7" stroke="#777" stroke-width="0.7"/>
<text x="19.5" y="161.7" font-size="6.4" text-anchor="end" >8</text>
<path d="M21.2 193.1H24.7" stroke="#777" stroke-width="0.7"/>
<text x="19.5" y="195.5" font-size="6.4" text-anchor="end" >7</text>
<path d="M21.2 226.8H24.7" stroke="#777" stroke-width="0.7"/>
<text x="19.5" y="229.2" font-size="6.4" text-anchor="end" >6</text>
<path d="M21.2 260.6H24.7" stroke="#777" stroke-width="0.7"/>
<text x="19.5" y="263.0" font-size="6.4" text-anchor="end" >5</text>
<path d="M22.7 176.2H24.7" stroke="#aaa" stroke-width="0.6"/>
<path d="M22.7 210.0H24.7" stroke="#aaa" stroke-width="0.6"/>
<path d="M22.7 243.7H24.7" stroke="#aaa" stroke-width="0.6"/>
<path d="M24.7 260.6V263.20000000000005" stroke="#777" stroke-width="0.7"/>
<path d="M58.9 260.6V263.20000000000005" stroke="#777" stroke-width="0.7"/>
<path d="M93.1 260.6V263.20000000000005" stroke="#777" stroke-width="0.7"/>
<path d="M127.3 260.6V263.20000000000005" stroke="#777" stroke-width="0.7"/>
<path d="M161.5 260.6V263.20000000000005" stroke="#777" stroke-width="0.7"/>
<path d="M41.8 260.6V262.40000000000003" stroke="#aaa" stroke-width="0.6"/>
<path d="M76.0 260.6V262.40000000000003" stroke="#aaa" stroke-width="0.6"/>
<path d="M110.2 260.6V262.40000000000003" stroke="#aaa" stroke-width="0.6"/>
<path d="M144.4 260.6V262.40000000000003" stroke="#aaa" stroke-width="0.6"/>
<text x="24.7" y="272.9" font-size="6.3" text-anchor="middle" >0</text>
<text x="58.9" y="272.9" font-size="6.3" text-anchor="middle" >10</text>
<text x="93.1" y="272.9" font-size="6.3" text-anchor="middle" >20</text>
<text x="127.3" y="272.9" font-size="6.3" text-anchor="middle" >30</text>
<text x="161.5" y="272.9" font-size="6.3" text-anchor="middle" >40</text>
<text x="44.2" y="282.6" font-size="5.8" textLength="98.8" lengthAdjust="spacingAndGlyphs" xml:space="preserve" style="stroke-width:0.45px">POST-STORAGE  pCO<tspan dy="1.5" font-size="4">2</tspan><tspan dy="-1.5">  (mmHg)</tspan></text>
<text x="0" y="0" font-size="5.8" textLength="64.1" lengthAdjust="spacingAndGlyphs" xml:space="preserve" style="stroke-width:0.45px" transform="translate(10.0 242.6) rotate(-90)">POST-STORAGE  pH</text>
<text x="0.0" y="158.4" font-size="11.2" style="stroke-width:0.55px">D</text>
<circle cx="41.9" cy="176.3" r="2.3" fill="#fff" stroke="#333" stroke-width="1.1"/>
<circle cx="49.6" cy="174.7" r="2.3" fill="#fff" stroke="#333" stroke-width="1.1"/>
<circle cx="58.0" cy="168.8" r="2.12" fill="#000"/>
<circle cx="56.6" cy="171.5" r="2.3" fill="#fff" stroke="#333" stroke-width="1.1"/>
<circle cx="62.6" cy="173.3" r="2.12" fill="#000"/>
<circle cx="62.6" cy="175.8" r="2.3" fill="#fff" stroke="#333" stroke-width="1.1"/>
<circle cx="69.7" cy="177.8" r="2.12" fill="#000"/>
<circle cx="81.9" cy="184.8" r="2.3" fill="#fff" stroke="#333" stroke-width="1.1"/>
<circle cx="82.3" cy="182.2" r="2.12" fill="#000"/>
<circle cx="93.2" cy="176.9" r="2.12" fill="#000"/>
<circle cx="96.5" cy="182.8" r="2.12" fill="#000"/>
<circle cx="97.7" cy="186.9" r="2.12" fill="#000"/>
<circle cx="105.1" cy="184.7" r="2.12" fill="#000"/>
<circle cx="107.6" cy="189.0" r="2.12" fill="#000"/>
<circle cx="110.9" cy="187.7" r="2.12" fill="#000"/>
<circle cx="113.1" cy="191.8" r="2.12" fill="#000"/>
<circle cx="119.3" cy="186.2" r="2.12" fill="#000"/>
<circle cx="122.6" cy="188.7" r="2.12" fill="#000"/>
<circle cx="118.4" cy="192.7" r="2.12" fill="#000"/>
<circle cx="120.7" cy="192.3" r="2.12" fill="#000"/>
<circle cx="129.1" cy="187.8" r="2.12" fill="#000"/>
<circle cx="131.8" cy="190.3" r="2.12" fill="#000"/>
<circle cx="134.2" cy="190.3" r="2.12" fill="#000"/>
<circle cx="139.0" cy="191.5" r="2.12" fill="#000"/>
<circle cx="148.4" cy="189.0" r="2.12" fill="#000"/>
<rect x="40.4" y="200.2" width="3.9" height="3.9" fill="#000"/>
<rect x="62.8" y="187.3" width="4.4" height="4.4" fill="#fff" stroke="#2a2a2a" stroke-width="0.85"/>
<rect x="61.0" y="189.3" width="4.4" height="4.4" fill="#fff" stroke="#2a2a2a" stroke-width="0.85"/>
<rect x="54.8" y="192.9" width="3.9" height="3.9" fill="#000"/>
<path d="M59.0 192.2L60.9 196.1L57.1 196.1Z" fill="#000"/>
<circle cx="62.0" cy="195.0" r="2.12" fill="#000"/>
<path d="M69.4 193.2L71.2 197.1L67.6 197.1Z" fill="#000"/>
<rect x="63.1" y="195.8" width="4.4" height="4.4" fill="#fff" stroke="#2a2a2a" stroke-width="0.85"/>
<rect x="55.6" y="197.3" width="4.4" height="4.4" fill="#fff" stroke="#2a2a2a" stroke-width="0.85"/>
<path d="M60.3 199.5L62.1 203.4L58.4 203.4Z" fill="#000"/>
<rect x="58.8" y="202.9" width="3.9" height="3.9" fill="#000"/>
<rect x="64.5" y="204.4" width="4.4" height="4.4" fill="#fff" stroke="#2a2a2a" stroke-width="0.85"/>
<rect x="65.6" y="208.9" width="3.9" height="3.9" fill="#000"/>
<rect x="70.5" y="202.1" width="3.9" height="3.9" fill="#000"/>
<rect x="74.4" y="202.4" width="4.4" height="4.4" fill="#fff" stroke="#2a2a2a" stroke-width="0.85"/>
<rect x="73.5" y="207.4" width="3.9" height="3.9" fill="#000"/>
<rect x="80.2" y="204.7" width="4.4" height="4.4" fill="#fff" stroke="#2a2a2a" stroke-width="0.85"/>
<rect x="58.2" y="212.4" width="3.9" height="3.9" fill="#000"/>
<rect x="81.6" y="188.2" width="4.4" height="4.4" fill="#fff" stroke="#2a2a2a" stroke-width="0.85"/>
<rect x="79.3" y="193.1" width="3.9" height="3.9" fill="#000"/>
<path d="M200.5 160.2V261.1H337.1" fill="none" stroke="#6a6a6a" stroke-width="1.5"/>
<path d="M197.0 160.2H200.5" stroke="#777" stroke-width="0.7"/>
<text x="195.3" y="162.6" font-size="6.4" text-anchor="end" >8</text>
<path d="M197.0 193.8H200.5" stroke="#777" stroke-width="0.7"/>
<text x="195.3" y="196.2" font-size="6.4" text-anchor="end" >7</text>
<path d="M197.0 227.5H200.5" stroke="#777" stroke-width="0.7"/>
<text x="195.3" y="229.9" font-size="6.4" text-anchor="end" >6</text>
<path d="M197.0 261.1H200.5" stroke="#777" stroke-width="0.7"/>
<text x="195.3" y="263.5" font-size="6.4" text-anchor="end" >5</text>
<path d="M198.5 177.0H200.5" stroke="#aaa" stroke-width="0.6"/>
<path d="M198.5 210.7H200.5" stroke="#aaa" stroke-width="0.6"/>
<path d="M198.5 244.3H200.5" stroke="#aaa" stroke-width="0.6"/>
<path d="M200.5 261.1V263.70000000000005" stroke="#777" stroke-width="0.7"/>
<path d="M234.7 261.1V263.70000000000005" stroke="#777" stroke-width="0.7"/>
<path d="M268.8 261.1V263.70000000000005" stroke="#777" stroke-width="0.7"/>
<path d="M303.0 261.1V263.70000000000005" stroke="#777" stroke-width="0.7"/>
<path d="M337.1 261.1V263.70000000000005" stroke="#777" stroke-width="0.7"/>
<path d="M217.6 261.1V262.90000000000003" stroke="#aaa" stroke-width="0.6"/>
<path d="M251.7 261.1V262.90000000000003" stroke="#aaa" stroke-width="0.6"/>
<path d="M285.9 261.1V262.90000000000003" stroke="#aaa" stroke-width="0.6"/>
<path d="M320.0 261.1V262.90000000000003" stroke="#aaa" stroke-width="0.6"/>
<text x="200.5" y="273.4" font-size="6.3" text-anchor="middle" >0</text>
<text x="234.7" y="273.4" font-size="6.3" text-anchor="middle" >50</text>
<text x="268.8" y="273.4" font-size="6.3" text-anchor="middle" >100</text>
<text x="303.0" y="273.4" font-size="6.3" text-anchor="middle" >150</text>
<text x="337.1" y="273.4" font-size="6.3" text-anchor="middle" >200</text>
<text x="222.2" y="283.0" font-size="5.8" textLength="94.4" lengthAdjust="spacingAndGlyphs" xml:space="preserve" style="stroke-width:0.45px">POST-STORAGE  pO<tspan dy="1.5" font-size="4">2</tspan><tspan dy="-1.5">  (mmHg)</tspan></text>
<text x="0" y="0" font-size="5.8" textLength="62.3" lengthAdjust="spacingAndGlyphs" xml:space="preserve" style="stroke-width:0.45px" transform="translate(184.3 242.9) rotate(-90)">POST-STORAGE  pH</text>
<text x="175.7" y="158.6" font-size="11.2" style="stroke-width:0.55px">E</text>
<circle cx="267.7" cy="189.7" r="2.3" fill="#fff" stroke="#333" stroke-width="1.1"/>
<circle cx="289.2" cy="172.0" r="2.3" fill="#fff" stroke="#333" stroke-width="1.1"/>
<circle cx="292.6" cy="175.4" r="2.3" fill="#fff" stroke="#333" stroke-width="1.1"/>
<circle cx="300.5" cy="177.2" r="2.3" fill="#fff" stroke="#333" stroke-width="1.1"/>
<circle cx="322.1" cy="166.7" r="2.3" fill="#fff" stroke="#333" stroke-width="1.1"/>
<circle cx="323.1" cy="177.0" r="2.3" fill="#fff" stroke="#333" stroke-width="1.1"/>
<circle cx="323.1" cy="175.5" r="2.3" fill="#fff" stroke="#333" stroke-width="1.1"/>
<circle cx="234.8" cy="189.4" r="2.12" fill="#000"/>
<circle cx="233.0" cy="192.1" r="2.12" fill="#000"/>
<circle cx="250.8" cy="183.6" r="2.12" fill="#000"/>
<circle cx="250.8" cy="188.7" r="2.12" fill="#000"/>
<circle cx="251.2" cy="191.6" r="2.12" fill="#000"/>
<circle cx="259.8" cy="193.1" r="2.12" fill="#000"/>
<circle cx="266.6" cy="182.9" r="2.12" fill="#000"/>
<circle cx="269.8" cy="185.5" r="2.12" fill="#000"/>
<circle cx="265.6" cy="189.2" r="2.12" fill="#000"/>
<circle cx="270.1" cy="189.2" r="2.12" fill="#000"/>
<circle cx="266.1" cy="194.0" r="2.12" fill="#000"/>
<circle cx="271.2" cy="194.0" r="2.12" fill="#000"/>
<rect x="273.9" y="189.1" width="4.4" height="4.4" fill="#fff" stroke="#2a2a2a" stroke-width="0.85"/>
<rect x="277.4" y="194.2" width="3.9" height="3.9" fill="#000"/>
<rect x="279.9" y="190.2" width="4.4" height="4.4" fill="#fff" stroke="#2a2a2a" stroke-width="0.85"/>
<circle cx="282.1" cy="178.7" r="2.12" fill="#000"/>
<circle cx="283.7" cy="187.6" r="2.12" fill="#000"/>
<circle cx="294.4" cy="177.8" r="2.12" fill="#000"/>
<circle cx="298.7" cy="174.1" r="2.12" fill="#000"/>
<circle cx="304.6" cy="170.0" r="2.12" fill="#000"/>
<circle cx="288.2" cy="191.2" r="2.12" fill="#000"/>
<circle cx="292.9" cy="185.6" r="2.12" fill="#000"/>
<path d="M290.1 193.5L292.0 197.4L288.2 197.4Z" fill="#000"/>
<rect x="292.2" y="192.9" width="3.9" height="3.9" fill="#000"/>
<rect x="276.2" y="205.0" width="3.9" height="3.9" fill="#000"/>
<rect x="280.9" y="205.5" width="4.4" height="4.4" fill="#fff" stroke="#2a2a2a" stroke-width="0.85"/>
<rect x="286.9" y="202.8" width="3.9" height="3.9" fill="#000"/>
<rect x="285.7" y="209.5" width="3.9" height="3.9" fill="#000"/>
<rect x="307.2" y="188.3" width="4.4" height="4.4" fill="#fff" stroke="#2a2a2a" stroke-width="0.85"/>
<rect x="305.1" y="193.0" width="3.9" height="3.9" fill="#000"/>
<rect x="296.3" y="196.3" width="4.4" height="4.4" fill="#fff" stroke="#2a2a2a" stroke-width="0.85"/>
<rect x="303.9" y="197.4" width="3.9" height="3.9" fill="#000"/>
<rect x="312.4" y="195.2" width="3.9" height="3.9" fill="#000"/>
<rect x="313.7" y="194.5" width="4.4" height="4.4" fill="#fff" stroke="#2a2a2a" stroke-width="0.85"/>
<path d="M322.2 193.9L324.1 197.8L320.3 197.8Z" fill="#000"/>
<rect x="316.2" y="200.9" width="3.9" height="3.9" fill="#000"/>
<rect x="313.9" y="200.8" width="4.4" height="4.4" fill="#fff" stroke="#2a2a2a" stroke-width="0.85"/>
<circle cx="302.0" cy="202.8" r="2.12" fill="#000"/>
<path d="M302.3 199.7L304.2 203.6L300.4 203.6Z" fill="#000"/>
<rect x="294.4" y="204.5" width="3.9" height="3.9" fill="#000"/>
<rect x="303.7" y="205.6" width="4.4" height="4.4" fill="#fff" stroke="#2a2a2a" stroke-width="0.85"/>
<rect x="308.1" y="202.7" width="3.9" height="3.9" fill="#000"/>
<rect x="312.5" y="203.8" width="4.4" height="4.4" fill="#fff" stroke="#2a2a2a" stroke-width="0.85"/>
<rect x="297.4" y="208.9" width="3.9" height="3.9" fill="#000"/>
<rect x="312.4" y="208.0" width="3.9" height="3.9" fill="#000"/>
<rect x="306.2" y="213.2" width="3.9" height="3.9" fill="#000"/>
<rect x="323.2" y="212.4" width="3.9" height="3.9" fill="#000"/>
<rect x="320.9" y="222.9" width="3.9" height="3.9" fill="#000"/>
<rect x="323.1" y="221.1" width="3.9" height="3.9" fill="#000"/>
<path d="M327.0 224.3L328.9 228.2L325.1 228.2Z" fill="#000"/>
<path d="M379.3 159.4V261.3H515.4" fill="none" stroke="#555" stroke-width="1.25"/>
<path d="M375.8 159.4H379.3" stroke="#777" stroke-width="0.7"/>
<text x="374.1" y="161.8" font-size="6.4" text-anchor="end" >8.0</text>
<path d="M375.8 176.4H379.3" stroke="#777" stroke-width="0.7"/>
<text x="374.1" y="178.8" font-size="6.4" text-anchor="end" >7.6</text>
<path d="M375.8 193.4H379.3" stroke="#777" stroke-width="0.7"/>
<text x="374.1" y="195.8" font-size="6.4" text-anchor="end" >7.2</text>
<path d="M375.8 210.4H379.3" stroke="#777" stroke-width="0.7"/>
<text x="374.1" y="212.8" font-size="6.4" text-anchor="end" >6.8</text>
<path d="M375.8 227.3H379.3" stroke="#777" stroke-width="0.7"/>
<text x="374.1" y="229.7" font-size="6.4" text-anchor="end" >6.4</text>
<path d="M375.8 244.3H379.3" stroke="#777" stroke-width="0.7"/>
<text x="374.1" y="246.7" font-size="6.4" text-anchor="end" >6.0</text>
<path d="M375.8 261.3H379.3" stroke="#777" stroke-width="0.7"/>
<text x="374.1" y="263.7" font-size="6.4" text-anchor="end" >5.6</text>
<path d="M377.3 167.9H379.3" stroke="#aaa" stroke-width="0.6"/>
<path d="M377.3 184.9H379.3" stroke="#aaa" stroke-width="0.6"/>
<path d="M377.3 201.9H379.3" stroke="#aaa" stroke-width="0.6"/>
<path d="M377.3 218.8H379.3" stroke="#aaa" stroke-width="0.6"/>
<path d="M377.3 235.8H379.3" stroke="#aaa" stroke-width="0.6"/>
<path d="M377.3 252.8H379.3" stroke="#aaa" stroke-width="0.6"/>
<path d="M379.3 261.3V263.90000000000003" stroke="#777" stroke-width="0.7"/>
<path d="M402.0 261.3V263.90000000000003" stroke="#777" stroke-width="0.7"/>
<path d="M424.7 261.3V263.90000000000003" stroke="#777" stroke-width="0.7"/>
<path d="M447.4 261.3V263.90000000000003" stroke="#777" stroke-width="0.7"/>
<path d="M470.0 261.3V263.90000000000003" stroke="#777" stroke-width="0.7"/>
<path d="M492.7 261.3V263.90000000000003" stroke="#777" stroke-width="0.7"/>
<path d="M515.4 261.3V263.90000000000003" stroke="#777" stroke-width="0.7"/>
<path d="M390.6 261.3V263.1" stroke="#aaa" stroke-width="0.6"/>
<path d="M413.3 261.3V263.1" stroke="#aaa" stroke-width="0.6"/>
<path d="M436.0 261.3V263.1" stroke="#aaa" stroke-width="0.6"/>
<path d="M458.7 261.3V263.1" stroke="#aaa" stroke-width="0.6"/>
<path d="M481.4 261.3V263.1" stroke="#aaa" stroke-width="0.6"/>
<path d="M504.1 261.3V263.1" stroke="#aaa" stroke-width="0.6"/>
<text x="379.3" y="273.6" font-size="6.3" text-anchor="middle" >0</text>
<text x="402.0" y="273.6" font-size="6.3" text-anchor="middle" >10</text>
<text x="424.7" y="273.6" font-size="6.3" text-anchor="middle" >20</text>
<text x="447.4" y="273.6" font-size="6.3" text-anchor="middle" >30</text>
<text x="470.0" y="273.6" font-size="6.3" text-anchor="middle" >40</text>
<text x="492.7" y="273.6" font-size="6.3" text-anchor="middle" >50</text>
<text x="515.4" y="273.6" font-size="6.3" text-anchor="middle" >60</text>
<text x="389.3" y="283.0" font-size="5.8" textLength="117.5" lengthAdjust="spacingAndGlyphs" xml:space="preserve" style="stroke-width:0.45px">POST-STORAGE  GLUCOSE  (mgm/dl)</text>
<text x="0" y="0" font-size="5.8" textLength="63.1" lengthAdjust="spacingAndGlyphs" xml:space="preserve" style="stroke-width:0.45px" transform="translate(358.8 241.8) rotate(-90)">POST-STORAGE  pH</text>
<text x="353.0" y="158.3" font-size="11.2" style="stroke-width:0.55px">F</text>
<circle cx="379.7" cy="167.2" r="2.3" fill="#fff" stroke="#333" stroke-width="1.1"/>
<circle cx="381.6" cy="170.3" r="2.3" fill="#fff" stroke="#333" stroke-width="1.1"/>
<circle cx="378.8" cy="172.1" r="2.12" fill="#000"/>
<circle cx="381.6" cy="173.8" r="2.3" fill="#fff" stroke="#333" stroke-width="1.1"/>
<circle cx="380.1" cy="175.8" r="2.3" fill="#fff" stroke="#333" stroke-width="1.1"/>
<circle cx="381.6" cy="178.3" r="2.3" fill="#fff" stroke="#333" stroke-width="1.1"/>
<circle cx="379.9" cy="180.5" r="2.3" fill="#fff" stroke="#333" stroke-width="1.1"/>
<circle cx="381.1" cy="182.4" r="2.3" fill="#fff" stroke="#333" stroke-width="1.1"/>
<circle cx="379.7" cy="187.6" r="2.12" fill="#000"/>
<circle cx="381.9" cy="187.9" r="2.12" fill="#000"/>
<path d="M379.5 189.5L381.4 193.4L377.6 193.4Z" fill="#000"/>
<circle cx="393.2" cy="192.6" r="2.12" fill="#000"/>
<circle cx="402.4" cy="186.0" r="2.12" fill="#000"/>
<circle cx="405.0" cy="182.8" r="2.12" fill="#000"/>
<circle cx="411.8" cy="176.1" r="2.12" fill="#000"/>
<path d="M414.0 186.2L415.9 190.1L412.1 190.1Z" fill="#000"/>
<path d="M420.5 164.0L422.4 167.9L418.6 167.9Z" fill="#000"/>
<rect x="380.1" y="197.4" width="4.4" height="4.4" fill="#fff" stroke="#2a2a2a" stroke-width="0.85"/>
<circle cx="379.2" cy="202.9" r="2.12" fill="#000"/>
<rect x="379.9" y="210.0" width="3.9" height="3.9" fill="#000"/>
<rect x="382.2" y="213.8" width="4.4" height="4.4" fill="#fff" stroke="#2a2a2a" stroke-width="0.85"/>
<rect x="388.4" y="217.0" width="4.4" height="4.4" fill="#fff" stroke="#2a2a2a" stroke-width="0.85"/>
<rect x="393.3" y="216.8" width="4.4" height="4.4" fill="#fff" stroke="#2a2a2a" stroke-width="0.85"/>
<rect x="393.9" y="220.8" width="3.9" height="3.9" fill="#000"/>
<rect x="379.9" y="221.4" width="3.9" height="3.9" fill="#000"/>
<path d="M380.2 224.3L382.1 228.2L378.3 228.2Z" fill="#000"/>
<rect x="379.9" y="226.5" width="3.9" height="3.9" fill="#000"/>
<path d="M379.6 229.5L381.5 233.4L377.8 233.4Z" fill="#000"/>
<rect x="379.9" y="237.9" width="3.9" height="3.9" fill="#000"/>
<path d="M383.7 240.8L385.6 244.7L381.8 244.7Z" fill="#000"/>
<path d="M381.9 253.5L383.8 257.4L380.0 257.4Z" fill="#000"/>
<rect x="400.2" y="204.2" width="3.9" height="3.9" fill="#000"/>
<rect x="402.8" y="210.3" width="4.4" height="4.4" fill="#fff" stroke="#2a2a2a" stroke-width="0.85"/>
<rect x="403.1" y="215.8" width="3.9" height="3.9" fill="#000"/>
<rect x="418.8" y="215.2" width="3.9" height="3.9" fill="#000"/>
<rect x="415.9" y="219.7" width="3.9" height="3.9" fill="#000"/>
<rect x="422.7" y="213.9" width="3.9" height="3.9" fill="#000"/>
<rect x="426.1" y="214.1" width="3.9" height="3.9" fill="#000"/>
<path d="M434.7 210.1L436.6 214.0L432.8 214.0Z" fill="#000"/>
<rect x="432.4" y="196.2" width="4.4" height="4.4" fill="#fff" stroke="#2a2a2a" stroke-width="0.85"/>
<path d="M441.5 186.6L443.4 190.5L439.6 190.5Z" fill="#000"/>
<path d="M452.9 181.9L454.8 185.8L451.0 185.8Z" fill="#000"/>
<rect x="439.3" y="205.2" width="4.4" height="4.4" fill="#fff" stroke="#2a2a2a" stroke-width="0.85"/>
<rect x="442.2" y="207.8" width="4.4" height="4.4" fill="#fff" stroke="#2a2a2a" stroke-width="0.85"/>
<path d="M448.1 202.1L450.0 206.0L446.2 206.0Z" fill="#000"/>
<rect x="425.6" y="213.7" width="3.9" height="3.9" fill="#000"/>
<rect x="452.3" y="196.1" width="4.4" height="4.4" fill="#fff" stroke="#2a2a2a" stroke-width="0.85"/>
<path d="M457.5 197.8L459.4 201.7L455.6 201.7Z" fill="#000"/>
<path d="M464.3 196.7L466.2 200.6L462.4 200.6Z" fill="#000"/>
<rect x="457.4" y="202.7" width="3.9" height="3.9" fill="#000"/>
<rect x="456.7" y="204.6" width="3.9" height="3.9" fill="#000"/>
<path d="M457.5 208.2L459.4 212.1L455.6 212.1Z" fill="#000"/>
<rect x="466.9" y="210.9" width="3.9" height="3.9" fill="#000"/>
<rect x="478.2" y="200.6" width="3.9" height="3.9" fill="#000"/>
<rect x="478.2" y="202.6" width="3.9" height="3.9" fill="#000"/>
<circle cx="487.3" cy="187.9" r="2.12" fill="#000"/>
<rect x="487.0" y="195.2" width="4.4" height="4.4" fill="#fff" stroke="#2a2a2a" stroke-width="0.85"/>
<rect x="485.4" y="205.1" width="3.9" height="3.9" fill="#000"/>
<path d="M500.7 202.9L502.6 206.8L498.8 206.8Z" fill="#000"/>
<path d="M464.2 197.2L466.1 201.1L462.3 201.1Z" fill="#000"/>
<rect x="458.8" y="202.6" width="3.9" height="3.9" fill="#000"/>
</svg></body></html>
